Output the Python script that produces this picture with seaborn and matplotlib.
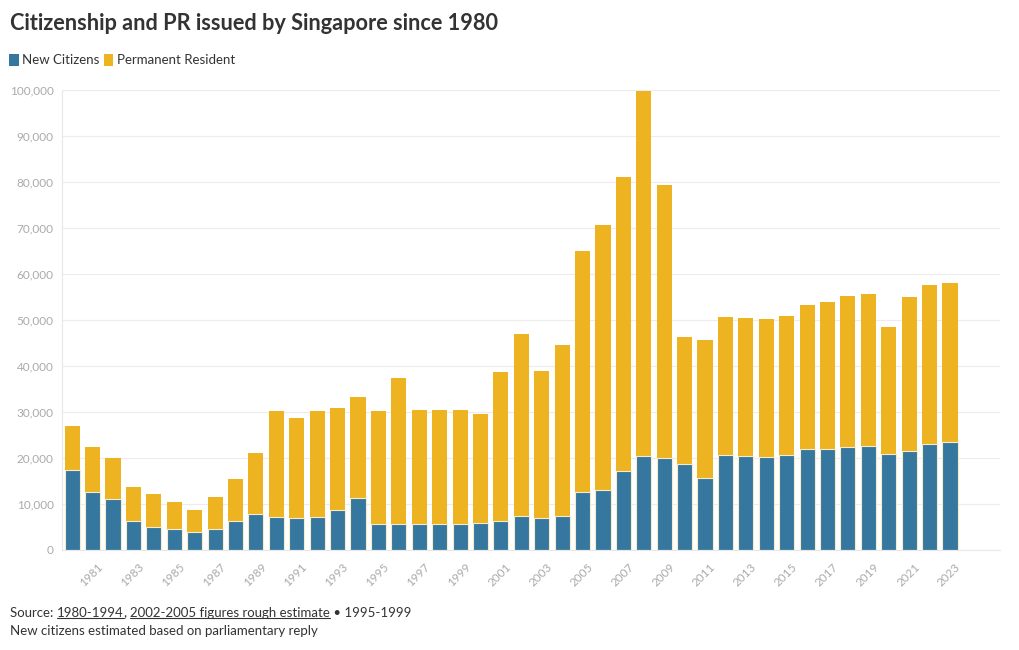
import matplotlib
matplotlib.use("Agg")
import matplotlib.pyplot as plt
import seaborn as sns
import pandas as pd
from matplotlib.patches import Patch

years = list(range(1980, 2024))
new_citizens = [17500, 12600, 11000, 6300, 4900, 4600, 3900, 4500, 6400, 7800,
                7200, 7000, 7100, 8800, 11400, 5600, 5600, 5600, 5600, 5600,
                5900, 6200, 7400, 6900, 7500, 12700, 13100, 17200, 20400, 19900,
                18600, 15700, 20600, 20500, 20300, 20700, 22000, 22000, 22400, 22600,
                20900, 21500, 23000, 23400]
totals = [27000, 22300, 19900, 13600, 12200, 10500, 8800, 11600, 15400, 21100,
          30200, 28800, 30200, 30900, 33200, 30200, 37300, 30400, 30400, 30400,
          29600, 38800, 47000, 39000, 44500, 64900, 70600, 81000, 99800, 79400,
          46300, 45700, 50700, 50500, 50300, 50800, 53200, 54000, 55300, 55700,
          48500, 54900, 57700, 58100]
permanent_residents = [t - c for t, c in zip(totals, new_citizens)]

series_names = ["New Citizens", "Permanent Resident"]
BLUE = "#35779f"
YELLOW = "#edb321"

df = pd.DataFrame({
    "year": [str(y) for y in years],
    "citizens": new_citizens,
    "pr": permanent_residents,
})
df["total"] = df["citizens"] + df["pr"]

sns.set_theme(style="white")
plt.rcParams["font.family"] = ["Lato", "DejaVu Sans"]

fig = plt.figure(figsize=(10.2, 6.5), dpi=100)
ax = fig.add_axes([62 / 1020, 1 - 550 / 650, (1000 - 62) / 1020, (550 - 90) / 650])

order = df["year"].tolist()
sns.barplot(data=df, x="year", y="total", order=order, color=YELLOW,
            saturation=1, width=0.74, ax=ax, edgecolor="none")
sns.barplot(data=df, x="year", y="citizens", order=order, color=BLUE,
            saturation=1, width=0.74, ax=ax, edgecolor="#f6eccc", linewidth=0.8)

ax.set_xlim(-0.5, len(years) - 1 + 2.45)
ax.set_ylim(0, 100000)
yt = list(range(0, 100001, 10000))
ax.set_yticks(yt)
ax.set_yticklabels([f"{v:,}" for v in yt])
ax.yaxis.grid(True, color="#ececec", linewidth=0.8)
ax.set_axisbelow(True)
ax.set_xticks(range(len(years)))
ax.set_xticklabels([str(y) if y % 2 == 1 else "" for y in years],
                   rotation=45, ha="right", rotation_mode="anchor")
ax.tick_params(axis="x", colors="#dddddd", length=5, width=0.8, labelcolor="#aaaaaa",
               labelsize=8.5, pad=3)
ax.tick_params(axis="y", length=0, labelcolor="#aaaaaa", labelsize=8.5, pad=6)
for lab in ax.get_xticklabels():
    lab.set_transform(lab.get_transform() + matplotlib.transforms.ScaledTranslation(3.5 / 72, 0, fig.dpi_scale_trans))
ax.set_xlabel("")
ax.set_ylabel("")
for s in ["top", "right"]:
    ax.spines[s].set_visible(False)
ax.spines["left"].set_color("#e8e8e8")
ax.spines["left"].set_linewidth(0.8)
ax.spines["bottom"].set_color("#e8e8e8")
ax.spines["bottom"].set_linewidth(0.8)

# Title
fig.text(10 / 1020, 1 - 24 / 650, "Citizenship and PR issued by Singapore since 1980",
         fontsize=15.7, fontweight="bold", color="#333333", va="center", ha="left")

# Legend
handles = [Patch(facecolor=BLUE, edgecolor="none"), Patch(facecolor=YELLOW, edgecolor="none")]
fig.legend(handles, series_names, loc="center left", bbox_to_anchor=(4 / 1020, 1 - 60 / 650),
           ncol=2, frameon=False, fontsize=9.5, handlelength=0.7, handleheight=1.1,
           handletextpad=0.3, columnspacing=0.3, labelcolor="#333333", borderaxespad=0)

# Footer with underlined pieces
fig.canvas.draw()
renderer = fig.canvas.get_renderer()
pieces = [("Source: ", False), ("1980-1994", True), (", ", False),
          ("2002-2005 figures rough estimate", True), (" • 1995-1999", False)]
x = 10 / 1020
y = 1 - 613 / 650
for txt, ul in pieces:
    t = fig.text(x, y, txt, fontsize=9.5, color="#333333", va="center", ha="left")
    bb = t.get_window_extent(renderer=renderer)
    inv = fig.transFigure.inverted()
    (x0, y0), (x1, y1) = inv.transform([[bb.x0, bb.y0], [bb.x1, bb.y1]])
    if ul:
        fig.add_artist(plt.Line2D([x0, x1], [y0 + 1.5 / 650, y0 + 1.5 / 650],
                                  color="#333333", linewidth=0.8, transform=fig.transFigure))
    x = x1
fig.text(10 / 1020, 1 - 631 / 650, "New citizens estimated based on parliamentary reply",
         fontsize=9.5, color="#333333", va="center", ha="left")

fig.savefig("out.png", dpi=100)
